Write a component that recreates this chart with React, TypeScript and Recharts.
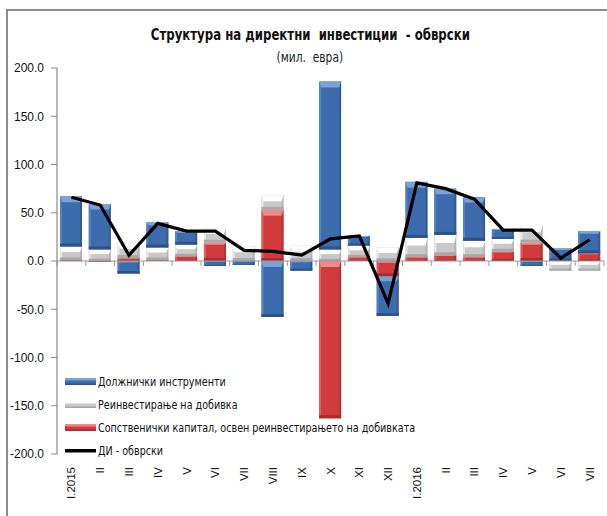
import React from "react";
import {
  ComposedChart,
  Bar,
  Line,
  XAxis,
  YAxis,
  ReferenceLine,
} from "recharts";

const categories = [
  "I.2015", "II", "III", "IV", "V", "VI", "VII", "VIII", "IX", "X", "XI", "XII",
  "I.2016", "II", "III", "IV", "V", "VI", "VII",
];
const debtInstruments = [52, 47, -13, 26, 14, -5, -4, -58, -10, 174, 10, -41, 58, 48, 45, 10, -5, 13, 23];
const reinvestedEarnings = [14, 12, 16, 13, 12, 15, 15, 15, 16, 12, 12, 14, 20, 21, 17, 13, 18, -10, -10];
const equityCapital = [1, -1, 3, 1, 5, 19, 0, 53, 0, -163, 4, -16, 4, 6, 4, 10, 19, 0, 8];
const totalLiabilities = [66, 58, 6, 39, 31, 31, 11, 10, 6, 23, 26, -44, 81, 75, 64, 32, 32, 3, 22];
const yTicks = [-200, -150, -100, -50, 0, 50, 100, 150, 200];

const legendNames = {
  debt: "Должнички инструменти",
  reinvest: "Реинвестирање на добивка",
  equity: "Сопственички капитал, освен реинвестирањето на добивката",
  total: "ДИ - обврски",
};

const data = categories.map((c, i) => ({
  idx: i,
  label: c,
  debt: debtInstruments[i],
  reinvest: reinvestedEarnings[i],
  equity: equityCapital[i],
  total: totalLiabilities[i],
}));

const NARROW = "'Liberation Sans Narrow', 'DejaVu Sans Condensed', 'Roboto Condensed', 'Liberation Sans', sans-serif";
const SANS = "'Liberation Sans', Arial, sans-serif";

const palette = {
  blue: { main: "#3c6cad", light: "#7aa2d6", dark: "#2a5489", edge: "#5482c0" },
  red: { main: "#d13b3b", light: "#ee8a8a", dark: "#a82a2a", edge: "#df5d5d" },
  gray: { main: "#c9c9c9", light: "#ffffff", dark: "#a8a8a8", edge: "#e6e6e6" },
};

type Pal = { main: string; light: string; dark: string; edge: string };

const makeShape = (p: Pal, topFrac: number) => (props: any) => {
  const { x, y, width, height } = props;
  if (!width || !height || Math.abs(height) < 0.5) return null;
  const top = Math.min(y, y + height);
  const h = Math.abs(height);
  const e = Math.min(h * topFrac, topFrac > 0.3 ? h * topFrac : 6);
  const b = Math.min(3, h / 5);
  const s = Math.min(2, width / 8);
  return (
    <g>
      <rect x={x} y={top} width={width} height={h} fill={p.main} />
      <rect x={x} y={top} width={s} height={h} fill={p.edge} />
      <rect x={x + width - s} y={top} width={s} height={h} fill={p.dark} opacity={0.6} />
      <polygon
        points={`${x},${top} ${x + width},${top} ${x + width - s},${top + e} ${x + s},${top + e}`}
        fill={p.light}
      />
      <rect x={x} y={top + h - b} width={width} height={b} fill={p.dark} />
    </g>
  );
};

const blueShape = makeShape(palette.blue, 0.12);
const redShape = makeShape(palette.red, 0.12);
const grayShape = makeShape(palette.gray, 0.4);

const ZeroLine = (props: any) => {
  const { x1, y1, x2 } = props;
  if (x1 == null || y1 == null || x2 == null) return null;
  const n = categories.length;
  const step = (x2 - x1) / n;
  const ticks = [];
  for (let i = 0; i <= n; i++) {
    const xx = x1 + i * step;
    ticks.push(<line key={i} x1={xx} x2={xx} y1={y1} y2={y1 + 5} stroke="#9a9a9a" strokeWidth={1} />);
  }
  return (
    <g>
      <line x1={x1} x2={x2} y1={y1} y2={y1} stroke="#9a9a9a" strokeWidth={1.2} />
      {ticks}
    </g>
  );
};

const XTick = (props: any) => {
  const { x, payload } = props;
  const label = categories[payload.value] ?? "";
  const ty = 467;
  return (
    <text
      x={x}
      y={ty}
      transform={`rotate(-90 ${x} ${ty})`}
      textAnchor="end"
      dominantBaseline="central"
      fontFamily={SANS}
      fontSize={11.5}
      fill="#111"
    >
      {label}
    </text>
  );
};

const Swatch = ({ p }: { p: Pal }) => (
  <svg width={31} height={7} style={{ display: "block" }}>
    <rect x={0} y={0} width={31} height={7} fill={p.main} />
    <rect x={0} y={0} width={31} height={2.5} fill={p.light} />
    <rect x={0} y={5.5} width={31} height={1.5} fill={p.dark} />
  </svg>
);

const LegendBox = () => {
  const items = [
    { name: legendNames.debt, p: palette.blue as Pal | null },
    { name: legendNames.reinvest, p: palette.gray as Pal | null },
    { name: legendNames.equity, p: palette.red as Pal | null },
    { name: legendNames.total, p: null },
  ];
  return (
    <div
      style={{
        position: "absolute",
        left: 65,
        top: 370,
        fontFamily: NARROW,
        fontSize: 13,
        color: "#111",
      }}
    >
      {items.map((it, i) => (
        <div key={i} style={{ display: "flex", alignItems: "center", height: 23, whiteSpace: "nowrap" }}>
          {it.p ? (
            <Swatch p={it.p} />
          ) : (
            <svg width={31} height={7} style={{ display: "block" }}>
              <rect x={0} y={2} width={31} height={3.5} fill="#000" />
            </svg>
          )}
          <span style={{ marginLeft: 2, display: "inline-block", transform: "scaleX(0.82)", transformOrigin: "left center" }}>
            {it.name}
          </span>
        </div>
      ))}
    </div>
  );
};

export default function App() {
  return (
    <div
      style={{
        position: "absolute",
        left: 0,
        top: 0,
        width: 607,
        height: 516,
        overflow: "hidden",
        background: "#fff",
      }}
    >
      <div
        style={{
          position: "absolute",
          left: 6,
          top: 9,
          width: 700,
          height: 600,
          borderTop: "2px solid #8a8a8a",
          borderLeft: "2px solid #8a8a8a",
        }}
      />
      <div style={{ position: "absolute", left: 0, top: 0 }}>
        <ComposedChart
          width={607}
          height={516}
          data={data}
          stackOffset="sign"
          barSize={22}
          margin={{ top: 68, right: 3, bottom: 0, left: 0 }}
        >
          <XAxis
            dataKey="idx"
            type="category"
            height={62}
            axisLine={false}
            tickLine={false}
            interval={0}
            tick={<XTick />}
          />
          <YAxis
            width={57}
            domain={[-200, 200]}
            ticks={yTicks}
            interval={0}
            allowDataOverflow
            tickFormatter={(v: number) => v.toFixed(1)}
            axisLine={{ stroke: "#8a8a8a", strokeWidth: 1.2 }}
            tickLine={{ stroke: "#8a8a8a" }}
            tickSize={6}
            tickMargin={7}
            tick={{ fontFamily: SANS, fontSize: 12, fill: "#111" }}
          />
          <ReferenceLine y={0} shape={<ZeroLine />} ifOverflow="extendDomain" />
          <Bar dataKey="equity" stackId="s" shape={redShape} isAnimationActive={false} />
          <Bar dataKey="reinvest" stackId="s" shape={grayShape} isAnimationActive={false} />
          <Bar dataKey="debt" stackId="s" shape={blueShape} isAnimationActive={false} />
          <Line
            dataKey="total"
            type="linear"
            stroke="#000"
            strokeWidth={3.2}
            dot={false}
            activeDot={false}
            isAnimationActive={false}
          />
        </ComposedChart>
      </div>
      <div
        style={{
          position: "absolute",
          left: 0,
          width: 620,
          top: 26,
          textAlign: "center",
          fontFamily: NARROW,
          fontWeight: "bold",
          fontSize: 15,
          color: "#111",
          whiteSpace: "pre",
        }}
      >
        <span style={{ display: "inline-block", transform: "scaleX(0.87)" }}>
          {"Структура на директни  инвестиции  - обврски"}
        </span>
      </div>
      <div
        style={{
          position: "absolute",
          left: 0,
          width: 620,
          top: 49,
          textAlign: "center",
          fontFamily: NARROW,
          fontSize: 13.5,
          color: "#222",
          whiteSpace: "pre",
        }}
      >
        <span style={{ display: "inline-block", transform: "scaleX(0.88)" }}>{"(мил.  евра)"}</span>
      </div>
      <LegendBox />
    </div>
  );
}
